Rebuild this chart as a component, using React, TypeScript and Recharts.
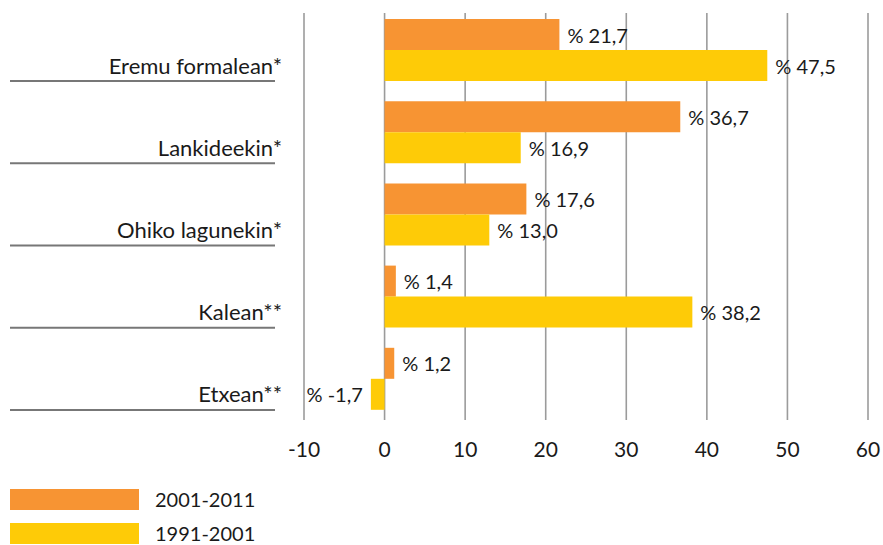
import { Bar, BarChart, CartesianGrid, LabelList, Legend, XAxis, YAxis } from 'recharts';

const categories = ['Eremu formalean*', 'Lankideekin*', 'Ohiko lagunekin*', 'Kalean**', 'Etxean**'];
const recent = [21.7, 36.7, 17.6, 1.4, 1.2];
const earlier = [47.5, 16.9, 13.0, 38.2, -1.7];
const xTicks = [-10, 0, 10, 20, 30, 40, 50, 60];

const series = [
  { key: 'recent', name: '2001-2011', color: '#F79433' },
  { key: 'earlier', name: '1991-2001', color: '#FECB07' },
];

const data = categories.map((name, i) => ({ name, recent: recent[i], earlier: earlier[i] }));

const FONT = 'Lato, "Open Sans", sans-serif';
const TXT = '#1a1a1a';

const fmt = (v: number) => `% ${v.toFixed(1).replace('.', ',')}`;

function CategoryTick({ y, payload }: any) {
  return (
    <g>
      <text x={282} y={y + 15} textAnchor="end" dominantBaseline="central" fontSize={22} fill={TXT} fontFamily={FONT}>
        {payload.value}
      </text>
      <line x1={10} x2={275} y1={y + 31} y2={y + 31} stroke="#777" strokeWidth={2} />
    </g>
  );
}

function ValueLabel({ x, y, width, height, value }: any) {
  const left = Math.min(x, x + width);
  const right = Math.max(x, x + width);
  const neg = value < 0;
  return (
    <text
      x={neg ? left - 8 : right + 8}
      y={y + height / 2}
      textAnchor={neg ? 'end' : 'start'}
      dominantBaseline="central"
      fontSize={20}
      fill={TXT}
      fontFamily={FONT}
    >
      {fmt(value)}
    </text>
  );
}

function LegendBox() {
  return (
    <div style={{ position: 'relative', height: 0 }}>
      {series.map((s, i) => (
        <div key={s.key} style={{ position: 'absolute', left: 10, top: i * 34, height: 21, display: 'flex', alignItems: 'center' }}>
          <div style={{ width: 129, height: 21, background: s.color }} />
          <span style={{ marginLeft: 16, fontSize: 20, lineHeight: '21px', color: TXT, fontFamily: FONT }}>{s.name}</span>
        </div>
      ))}
    </div>
  );
}

export default function App() {
  return (
    <div style={{ position: 'absolute', left: 0, top: 0, width: 883, height: 545, background: '#fff', overflow: 'hidden' }}>
      <BarChart
        width={883}
        height={545}
        data={data}
        layout="vertical"
        barGap={0}
        barSize={31}
        margin={{ top: 9, right: 15, bottom: 85, left: 0 }}
      >
        <CartesianGrid
          horizontal={false}
          vertical={(p: any) => (
            <line key={p.key} x1={p.x1} x2={p.x2} y1={p.y1 + 4} y2={p.y2} stroke="#9b9b9b" strokeWidth={1.6} />
          )}
        />
        <XAxis
          type="number"
          domain={[-10, 60]}
          ticks={xTicks}
          axisLine={false}
          tickLine={false}
          height={40}
          tickMargin={16}
          tick={{ fontSize: 21, fill: TXT, fontFamily: FONT }}
        />
        <YAxis type="category" dataKey="name" width={304} axisLine={false} tickLine={false} tick={<CategoryTick />} />
        <Legend content={<LegendBox />} wrapperStyle={{ left: 0, top: 489, height: 0, width: 300 }} />
        {series.map((s) => (
          <Bar key={s.key} dataKey={s.key} name={s.name} fill={s.color} isAnimationActive={false}>
            <LabelList dataKey={s.key} content={<ValueLabel />} />
          </Bar>
        ))}
      </BarChart>
    </div>
  );
}
